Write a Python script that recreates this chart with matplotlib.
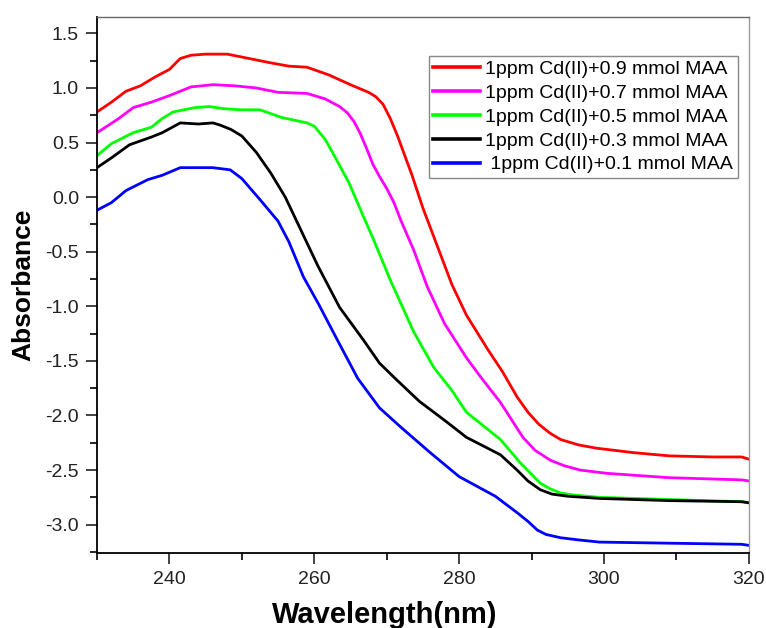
import numpy as np
import matplotlib.pyplot as plt
from matplotlib.ticker import MultipleLocator

plt.rcParams['font.family'] = ['Liberation Sans', 'DejaVu Sans']

# values
x_red = [230, 232, 234, 236, 238, 240, 241.5, 243, 245, 248, 251, 254, 256.5, 259, 262, 265, 267.5, 268.5,
         269.5, 270.5, 271.5, 272.5, 273.5, 275, 277, 279, 281, 284, 286, 288, 289.5, 291, 292.5, 294, 296.5,
         299, 304, 309, 315, 319, 320]
y_red = [0.78, 0.87, 0.97, 1.02, 1.10, 1.17, 1.27, 1.30, 1.31, 1.31, 1.27, 1.23, 1.20, 1.19, 1.12, 1.03, 0.96, 0.92,
         0.85, 0.72, 0.56, 0.38, 0.20, -0.10, -0.45, -0.80, -1.08, -1.40, -1.60, -1.83, -1.97, -2.08, -2.16, -2.22,
         -2.27, -2.30, -2.34, -2.37, -2.38, -2.38, -2.40]

x_mag = [230, 233, 235, 237.5, 240, 243, 246, 249, 252, 255, 259, 261.5, 263.5, 264.6, 265.5, 266.3, 267.2,
         268.1, 269, 270, 271, 272, 273.7, 275.6, 278, 281, 283, 285.7, 288.8, 290.5, 292.6, 294.5, 296.7,
         300.4, 309, 319, 320]
y_mag = [0.59, 0.72, 0.82, 0.87, 0.93, 1.01, 1.03, 1.02, 1.00, 0.96, 0.95, 0.90, 0.83, 0.77, 0.69, 0.59, 0.45,
         0.30, 0.19, 0.08, -0.05, -0.22, -0.48, -0.82, -1.16, -1.47, -1.65, -1.88, -2.20, -2.32, -2.41, -2.46,
         -2.50, -2.53, -2.57, -2.59, -2.60]

x_grn = [230, 232, 235, 237.5, 239, 240.5, 243.5, 245.5, 247.5, 250, 252.5, 255.5, 259, 260, 261.5, 262.6,
         264.8, 266.8, 268, 270.5, 273.7, 276.5, 279, 281, 285.7, 288.4, 291.2, 292.5, 294, 296, 299.4, 309,
         319, 320]
y_grn = [0.38, 0.49, 0.59, 0.64, 0.72, 0.78, 0.82, 0.83, 0.81, 0.80, 0.80, 0.73, 0.68, 0.65, 0.53, 0.40,
         0.13, -0.18, -0.36, -0.76, -1.23, -1.56, -1.77, -1.97, -2.22, -2.43, -2.62, -2.67, -2.71, -2.73, -2.75,
         -2.77, -2.79, -2.80]

x_blk = [230, 232, 234.5, 237.5, 239, 241.5, 244, 246, 247, 248.5, 249.5, 250, 252, 254, 256, 258, 260.5,
         263.5, 266.8, 269, 271, 274.5, 278.3, 281, 285.7, 288, 289.5, 291.2, 292.8, 295, 299.4, 309, 319, 320]
y_blk = [0.27, 0.36, 0.48, 0.55, 0.59, 0.68, 0.67, 0.68, 0.66, 0.62, 0.58, 0.56, 0.41, 0.22, 0.00, -0.28, -0.63,
         -1.01, -1.31, -1.52, -1.65, -1.87, -2.06, -2.20, -2.36, -2.50, -2.60, -2.68, -2.72, -2.74, -2.76,
         -2.78, -2.79, -2.80]

x_blu = [230, 232, 234, 237, 239, 241.5, 244, 246, 248.4, 250, 252.6, 255, 256.5, 258.5, 260.6, 263.2, 266,
         269, 272, 276, 280, 285, 288, 289.5, 290.8, 292, 294, 296.5, 299.4, 309, 319, 320]
y_blu = [-0.12, -0.05, 0.06, 0.16, 0.20, 0.27, 0.27, 0.27, 0.25, 0.17, -0.03, -0.22, -0.41, -0.73, -0.98,
         -1.31, -1.66, -1.93, -2.11, -2.34, -2.56, -2.74, -2.89, -2.97, -3.05, -3.09, -3.12, -3.14, -3.16,
         -3.17, -3.18, -3.19]

labels = ['1ppm Cd(II)+0.9 mmol MAA', '1ppm Cd(II)+0.7 mmol MAA', '1ppm Cd(II)+0.5 mmol MAA',
          '1ppm Cd(II)+0.3 mmol MAA', ' 1ppm Cd(II)+0.1 mmol MAA']

fig = plt.figure(figsize=(7.66, 6.28), dpi=100)
ax = fig.add_axes([0.1266, 0.1194, 0.851, 0.8535])

ax.plot(x_red, y_red, color='#ff0000', lw=2.0, label=labels[0])
ax.plot(x_mag, y_mag, color='#ff00ff', lw=2.0, label=labels[1])
ax.plot(x_grn, y_grn, color='#00ff00', lw=2.0, label=labels[2])
ax.plot(x_blk, y_blk, color='black', lw=2.0, label=labels[3])
ax.plot(x_blu, y_blu, color='#0000ff', lw=2.0, label=labels[4])

ax.set_xlim(230, 320)
ax.set_ylim(-3.26, 1.65)
ax.set_xticks([240, 260, 280, 300, 320])
ax.xaxis.set_minor_locator(MultipleLocator(10))
ax.yaxis.set_major_locator(MultipleLocator(0.5))
ax.yaxis.set_minor_locator(MultipleLocator(0.25))
ax.yaxis.set_major_formatter(plt.FormatStrFormatter('%.1f'))

ax.tick_params(which='major', direction='out', length=8, width=1.2, labelsize=14, pad=5, colors='#222222')
ax.tick_params(which='minor', direction='out', length=5, width=1.2)
ax.tick_params(top=False, right=False, which='both')

ax.spines['left'].set_linewidth(1.3)
ax.spines['bottom'].set_linewidth(1.3)
ax.spines['top'].set_color('#666666')
ax.spines['right'].set_color('#999999')
ax.spines['top'].set_linewidth(1.0)
ax.spines['right'].set_linewidth(1.0)

ax.set_ylabel('Absorbance', fontsize=19, fontweight='bold')
ax.yaxis.set_label_coords(-0.095, 0.5)
ax.set_xlabel('Wavelength(nm)', fontsize=21, fontweight='bold')
ax.xaxis.set_label_coords(0.442, -0.09)

leg = ax.legend(loc='upper right', bbox_to_anchor=(0.983, 0.928), fontsize=14, frameon=True,
                fancybox=False, edgecolor='#888888', framealpha=1, handlelength=2.4,
                handletextpad=0.25, labelspacing=0.32, borderpad=0.25, borderaxespad=0)
leg.get_frame().set_linewidth(1.0)
for line in leg.get_lines():
    line.set_linewidth(2.6)

plt.savefig('out.png', dpi=100)
